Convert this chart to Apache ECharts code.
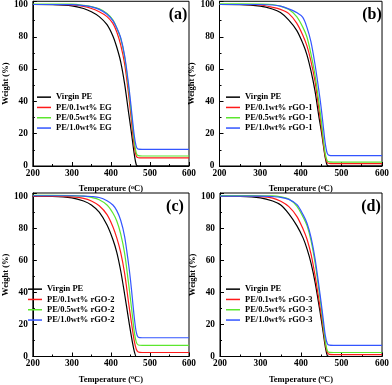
<!DOCTYPE html>
<html>
<head>
<meta charset="utf-8">
<script src="https://cdn.jsdelivr.net/npm/echarts@6/dist/echarts.min.js"></script>
<style>
html,body{margin:0;padding:0;background:#fff;}
#chart{width:392px;height:385px;}
</style>
</head>
<body>
<div id="chart"></div>
<script>
const temps = [200, 250, 300, 330, 350, 370, 390, 405, 415, 425, 435, 445, 450, 455, 460, 465, 470, 480, 500, 550, 600];

const a_virgin = [100, 99.9, 99.2, 97.5, 95.5, 92.5, 87.5, 80.5, 73.5, 64.5, 51, 33.5, 25, 16, 7, 0.8, 0, 0, 0, 0, 0];
const a_eg01   = [100, 100, 99.7, 98.8, 97.5, 95.5, 92.5, 88.3, 83, 75, 63.4, 45, 34, 22, 12, 6.2, 5.1, 5, 5, 5, 5];
const a_eg05   = [100.3, 100.3, 100.2, 99.5, 98.7, 97.3, 94.5, 90.5, 85.5, 79, 67.5, 49, 38, 26.3, 15, 8, 6.4, 6.2, 6.2, 6.2, 6.2];
const a_eg10   = [100, 100, 99.9, 99.3, 98.5, 97, 94, 90, 85.5, 79.5, 68.5, 51, 40.5, 29, 18.5, 12, 10.4, 10.3, 10.3, 10.3, 10.3];

const b_virgin = [100, 99.9, 99, 97.2, 95, 90.5, 84, 76, 69, 59, 46.5, 30, 22.5, 14, 5.5, 0.5, 0, 0, 0, 0, 0];
const b_rgo01  = [100, 100, 99.7, 98.3, 97, 94.5, 88.5, 81, 74.5, 65, 52.5, 34.6, 25.5, 15.5, 6.5, 2.2, 1.6, 1.5, 1.5, 1.5, 1.5];
const b_rgo05  = [100.4, 100.4, 100.3, 100, 99, 97, 92.5, 86, 80, 69.5, 56.5, 38.7, 29, 18, 8, 3.2, 2.5, 2.4, 2.4, 2.4, 2.4];
const b_rgo10  = [100, 100, 100, 99.7, 99, 97.3, 95, 92, 86, 77, 63, 46, 36.5, 25.5, 14.5, 8, 6.6, 6.4, 6.4, 6.4, 6.4];

const c_virgin = [100, 99.9, 99, 97, 94.5, 90, 82, 73, 65, 53.5, 39, 23.5, 16, 9, 3, 0, 0, 0, 0, 0, 0];
const c_rgo01  = [100, 100, 99.6, 98.7, 97, 94, 88.5, 81, 74, 65, 52, 34, 25.5, 17, 9.5, 4.5, 2.8, 2.5, 2.5, 2.5, 2.5];
const c_rgo05  = [100.5, 100.5, 100.4, 100, 99.2, 97.8, 94.5, 89.5, 84.5, 76.5, 64.5, 46, 36, 25.5, 15, 9, 7.2, 7, 7, 7, 7];
const c_rgo10  = [100.3, 100.3, 100.3, 100.1, 99.8, 99.2, 97.2, 94.5, 91, 85, 75, 58, 48, 36, 24, 15, 12, 11.7, 11.7, 11.7, 11.7];

const d_virgin = [100, 99.9, 99, 97, 94.5, 89, 81.5, 74, 67, 58, 46, 31, 23, 14.5, 6, 0.5, 0, 0, 0, 0, 0];
const d_rgo01  = [100, 100, 99.7, 98.8, 96.8, 93.5, 87.3, 79.5, 73, 63.5, 50, 34, 26, 17, 8, 2.5, 1.3, 1.2, 1.2, 1.2, 1.2];
const d_rgo05  = [100.4, 100.4, 100.3, 100.2, 99.6, 98.3, 93.7, 87, 81.5, 72, 58, 40, 30.5, 19.5, 9.5, 3.5, 2.6, 2.5, 2.5, 2.5, 2.5];
const d_rgo10  = [100, 100, 100, 99.7, 99.3, 98, 94.7, 88.5, 83, 74, 60.5, 42.5, 33, 23, 13, 8, 7.1, 7, 7, 7, 7];

const xTicks = [200, 300, 400, 500, 600];
const yTicks = [0, 20, 40, 60, 80, 100];

const namesA = ['Virgin PE', 'PE/0.1wt% EG', 'PE/0.5wt% EG', 'PE/1.0wt% EG'];
const namesB = ['Virgin PE', 'PE/0.1wt% rGO-1', 'PE/0.5wt% rGO-1', 'PE/1.0wt% rGO-1'];
const namesC = ['Virgin PE', 'PE/0.1wt% rGO-2', 'PE/0.5wt% rGO-2', 'PE/1.0wt% rGO-2'];
const namesD = ['Virgin PE', 'PE/0.1wt% rGO-3', 'PE/0.5wt% rGO-3', 'PE/1.0wt% rGO-3'];
const panelLabels = ['(a)', '(b)', '(c)', '(d)'];
const xTitle = 'Temperature';
const yTitle = 'Weight (%)';

const colors = ['#000000', '#ff1a1a', '#5ce62e', '#3355ff'];
const FONT = "'Liberation Serif','Times New Roman',serif";

const panels = [
  { names: namesA, data: [a_virgin, a_eg01, a_eg05, a_eg10], grid: {left: 26, top: 1, width: 163, height: 165}, legend: {left: 37, top: 92}, label: {x: 178, y: 15} },
  { names: namesB, data: [b_virgin, b_rgo01, b_rgo05, b_rgo10], grid: {left: 219.5, top: 1, width: 164, height: 165}, legend: {left: 226, top: 92}, label: {x: 372, y: 15} },
  { names: namesC, data: [c_virgin, c_rgo01, c_rgo05, c_rgo10], grid: {left: 26, top: 193, width: 163, height: 165}, legend: {left: 28, top: 284}, label: {x: 175, y: 207} },
  { names: namesD, data: [d_virgin, d_rgo01, d_rgo05, d_rgo10], grid: {left: 220, top: 193, width: 164, height: 165}, legend: {left: 226, top: 284}, label: {x: 371, y: 207} }
];

const grids = [], xAxes = [], yAxes = [], series = [], legends = [], graphics = [];
panels.forEach((p, gi) => {
  grids.push(Object.assign({show: true, borderColor: '#000', borderWidth: 1, backgroundColor: 'transparent'}, p.grid));
  xAxes.push({
    type: 'value', gridIndex: gi, min: xTicks[0], max: xTicks[xTicks.length - 1], interval: xTicks[1] - xTicks[0],
    name: xTitle + ' ({sup|o}C)', nameLocation: 'middle', nameGap: 18,
    nameTextStyle: {fontFamily: FONT, fontWeight: 'bold', fontSize: 8.5, color: '#000',
      rich: {sup: {fontFamily: FONT, fontWeight: 'bold', fontSize: 6, color: '#000', verticalAlign: 'top', padding: [0, 0, 4, 0]}}},
    axisLine: {lineStyle: {color: '#000', width: 1}},
    axisTick: {inside: true, length: 4, lineStyle: {color: '#000'}},
    minorTick: {show: true, splitNumber: 2, length: 2, lineStyle: {color: '#000'}},
    splitLine: {show: false},
    axisLabel: {fontFamily: FONT, fontWeight: 'bold', fontSize: 9.3, color: '#000', margin: 3}
  });
  yAxes.push({
    type: 'value', gridIndex: gi, min: 0, max: 102, interval: yTicks[1] - yTicks[0],
    name: yTitle, nameLocation: 'middle', nameGap: 20, nameRotate: 90,
    nameTextStyle: {fontFamily: FONT, fontWeight: 'bold', fontSize: 8.5, color: '#000'},
    axisLine: {lineStyle: {color: '#000', width: 1}},
    axisTick: {inside: true, length: 4, lineStyle: {color: '#000'}},
    minorTick: {show: true, splitNumber: 2, length: 2, lineStyle: {color: '#000'}},
    splitLine: {show: false},
    axisLabel: {fontFamily: FONT, fontWeight: 'bold', fontSize: 9.3, color: '#000', margin: 5,
      formatter: v => (yTicks.indexOf(v) >= 0 ? String(v) : '')}
  });
  p.data.forEach((arr, si) => {
    series.push({
      type: 'line', name: p.names[si], xAxisIndex: gi, yAxisIndex: gi,
      data: temps.map((t, i) => [t, arr[i]]),
      symbol: 'none', smooth: 0.3, animation: false,
      lineStyle: {color: colors[si], width: 1.2},
      itemStyle: {color: colors[si]}
    });
  });
  legends.push({
    orient: 'vertical', left: p.legend.left, top: p.legend.top, padding: 0,
    itemWidth: 14, itemHeight: 1.5, itemGap: 0, icon: 'rect',
    data: p.names, selectedMode: false,
    textStyle: {fontFamily: FONT, fontWeight: 'bold', fontSize: 8.5, color: '#000', lineHeight: 10.3}
  });
  graphics.push({
    type: 'text', x: p.label.x, y: p.label.y,
    style: {text: panelLabels[gi], font: "bold 16px 'Liberation Serif','Times New Roman',serif", fill: '#000', textAlign: 'center', textVerticalAlign: 'middle'}
  });
});

const chart = echarts.init(document.getElementById('chart'), null, {renderer: 'canvas'});
chart.setOption({
  animation: false,
  backgroundColor: '#fff',
  grid: grids, xAxis: xAxes, yAxis: yAxes, series: series, legend: legends, graphic: graphics
});
</script>
</body>
</html>
